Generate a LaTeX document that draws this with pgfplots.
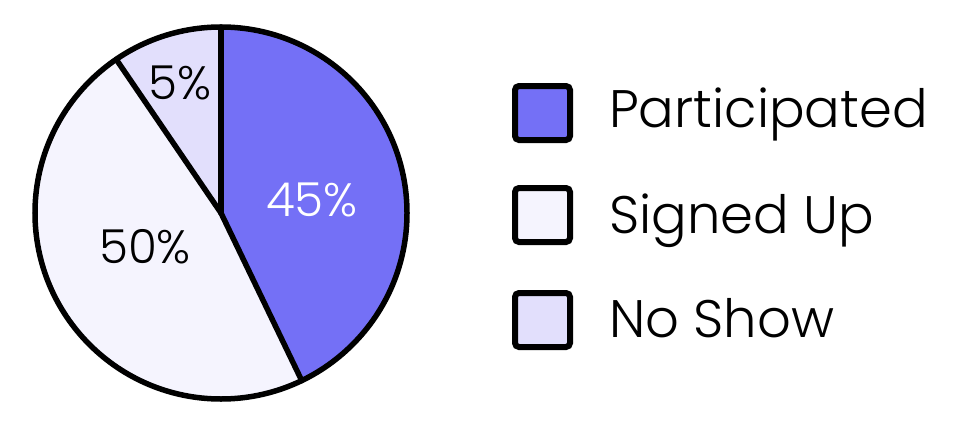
\documentclass[border=0pt]{standalone}
\usepackage{pgfplots}
\pgfplotsset{compat=1.18}
\usepackage{fontspec}
\setmainfont{Poppins Light}
\definecolor{cPart}{HTML}{7470F6}
\definecolor{cSign}{HTML}{F5F4FE}
\definecolor{cNo}{HTML}{E2DFFC}
% values of the slices (as drawn) and their printed labels
\def\vPart{45}\def\vSign{50}\def\vNo{10}
\pgfmathsetmacro{\tot}{\vPart+\vSign+\vNo}
\pgfmathsetmacro{\aA}{90}
\pgfmathsetmacro{\aB}{90-\vPart/\tot*360}
\pgfmathsetmacro{\aC}{\aB-\vSign/\tot*360}
\pgfmathsetmacro{\aD}{\aC-\vNo/\tot*360}
\begin{document}
\begin{tikzpicture}
\begin{axis}[name=ax,
  width=970bp, height=430bp, scale only axis,
  xmin=0, xmax=970, ymin=0, ymax=430,
  hide axis, clip=false]
  % slices
  \fill[cPart] (axis cs:221,217) -- ++(\aA:186bp) arc[start angle=\aA, end angle=\aB, radius=186bp] -- cycle;
  \fill[cSign] (axis cs:221,217) -- ++(\aB:186bp) arc[start angle=\aB, end angle=\aC, radius=186bp] -- cycle;
  \fill[cNo] (axis cs:221,217) -- ++(\aC:186bp) arc[start angle=\aC, end angle=\aD, radius=186bp] -- cycle;
  \draw[line width=5.5bp, line cap=round] (axis cs:221,217) -- ++(\aA:186bp);
  \draw[line width=5.5bp, line cap=round] (axis cs:221,217) -- ++(\aB:186bp);
  \draw[line width=5.5bp, line cap=round] (axis cs:221,217) -- ++(\aC:186bp);
  \draw[line width=5.5bp] (axis cs:221,217) circle[radius=186bp];
  % slice labels
  \node[white, font=\fontsize{47}{55}\selectfont] at (axis cs:312,230) {45\%};
  \node[black, font=\fontsize{47}{55}\selectfont] at (axis cs:145,183) {50\%};
  \node[black, font=\fontsize{47}{55}\selectfont] at (axis cs:180,347) {5\%};
  % legend
  \draw[line width=6bp, rounded corners=4bp, fill=cPart] (axis cs:515,344) rectangle (axis cs:570,290);
  \draw[line width=6bp, rounded corners=4bp, fill=cSign] (axis cs:515,242) rectangle (axis cs:570,188);
  \draw[line width=6bp, rounded corners=4bp, fill=cNo] (axis cs:515,137) rectangle (axis cs:570,83);
  \node[anchor=base west, inner sep=0pt, font=\fontsize{53}{61}\selectfont] at (axis cs:609,303) {Participated};
  \node[anchor=base west, inner sep=0pt, font=\fontsize{53}{61}\selectfont] at (axis cs:609,197) {Signed Up};
  \node[anchor=base west, inner sep=0pt, font=\fontsize{53}{61}\selectfont] at (axis cs:609,93) {No Show};
\end{axis}
\pgfresetboundingbox
\path (ax.south west) rectangle (ax.north east);
\end{tikzpicture}
\end{document}
